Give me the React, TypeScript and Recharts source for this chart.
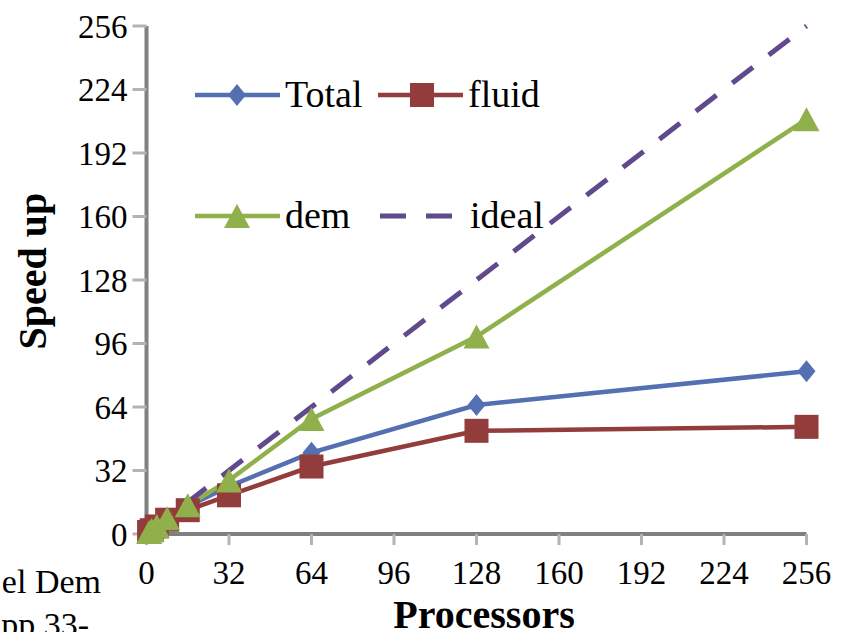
import React from 'react';
import { LineChart, Line, XAxis, YAxis, Legend } from 'recharts';

// processor counts and measured speed ups
const processors = [1, 2, 4, 8, 16, 32, 64, 128, 256];
const totalSpeedup = [1, 2, 3.9, 7.6, 14, 24, 41, 65, 82];
const fluidSpeedup = [1, 1.9, 3.8, 7.2, 12, 19.5, 34, 52, 54];
const demSpeedup = [1, 2, 4, 7.9, 14.5, 27, 58, 99.5, 209];
const idealSpeedup = [1, 2, 4, 8, 16, 32, 64, 128, 256];

const xTicks = [0, 32, 64, 96, 128, 160, 192, 224, 256];
const yTicks = [0, 32, 64, 96, 128, 160, 192, 224, 256];

const data = processors.map((p, i) => ({
  p,
  total: totalSpeedup[i],
  fluid: fluidSpeedup[i],
  dem: demSpeedup[i],
  ideal: idealSpeedup[i],
}));

const BLUE = '#5470b2';
const RED = '#923d3b';
const GREEN = '#8fb04a';
const PURPLE = '#60498c';
const FONT = "'Liberation Serif', 'Times New Roman', serif";

const Diamond = ({ cx, cy }: { cx: number; cy: number }) => (
  <polygon points={`${cx},${cy - 11} ${cx + 9},${cy} ${cx},${cy + 11} ${cx - 9},${cy}`} fill={BLUE} />
);
const Square = ({ cx, cy }: { cx: number; cy: number }) => (
  <rect x={cx - 12} y={cy - 12} width={24} height={24} fill={RED} />
);
const Triangle = ({ cx, cy }: { cx: number; cy: number }) => (
  <polygon points={`${cx},${cy - 12} ${cx + 13},${cy + 12} ${cx - 13},${cy + 12}`} fill={GREEN} />
);

const diamondDot = (props: any) => <Diamond key={`d-${props.index}`} cx={props.cx} cy={props.cy} />;
const squareDot = (props: any) => <Square key={`s-${props.index}`} cx={props.cx} cy={props.cy} />;
const triangleDot = (props: any) => <Triangle key={`t-${props.index}`} cx={props.cx} cy={props.cy} />;

// 2x2 legend sitting inside the plot area
const LegendBox = () => {
  const t = { fontFamily: FONT, fontSize: 38, fill: '#000' };
  return (
    <svg width={400} height={180} style={{ fontFamily: FONT }}>
      <line x1={5} y1={25} x2={90} y2={25} stroke={BLUE} strokeWidth={4.5} />
      <Diamond cx={47} cy={25} />
      <text x={95} y={37} fontFamily={FONT} fontSize={38} style={t}>Total</text>

      <line x1={188} y1={25} x2={273} y2={25} stroke={RED} strokeWidth={4.5} />
      <Square cx={232} cy={25} />
      <text x={278} y={37} fontFamily={FONT} fontSize={38} style={t}>fluid</text>

      <line x1={5} y1={146} x2={90} y2={146} stroke={GREEN} strokeWidth={4.5} />
      <Triangle cx={47} cy={146} />
      <text x={95} y={158} fontFamily={FONT} fontSize={38} style={t}>dem</text>

      <line x1={190} y1={146} x2={262} y2={146} stroke={PURPLE} strokeWidth={5} strokeDasharray="26 20" />
      <text x={280} y={158} fontFamily={FONT} fontSize={38} style={t}>ideal</text>
    </svg>
  );
};

const App: React.FC = () => {
  const tickStyle = { fontFamily: FONT, fontSize: 33, fill: '#000' };
  return (
    <div style={{ position: 'fixed', left: 0, top: 0, width: 841, height: 632, background: '#fff', overflow: 'hidden', fontFamily: FONT }}>
      <LineChart width={841} height={632} data={data} margin={{ top: 26, right: 34.5, bottom: 97, left: 145.5 }}>
        <XAxis
          dataKey="p"
          type="number"
          domain={[0, 256]}
          ticks={xTicks}
          interval={0}
          height={1}
          tick={tickStyle}
          axisLine={{ stroke: '#808080', strokeWidth: 4 }}
          tickLine={{ stroke: '#b3b3b3', strokeWidth: 3 }}
          tickSize={11}
          tickMargin={16}
        />
        <YAxis
          type="number"
          domain={[0, 256]}
          ticks={yTicks}
          interval={0}
          width={1}
          tick={tickStyle}
          axisLine={{ stroke: '#808080', strokeWidth: 4 }}
          tickLine={{ stroke: '#b3b3b3', strokeWidth: 3 }}
          tickSize={14}
          tickMargin={5}
        />
        <Legend
          layout="horizontal"
          verticalAlign="middle"
          align="center"
          content={() => <LegendBox />}
          wrapperStyle={{ left: 190, top: 70, width: 400, height: 180 }}
        />
        <Line dataKey="total" name="Total" type="linear" stroke={BLUE} strokeWidth={4.5} dot={diamondDot} activeDot={false} isAnimationActive={false} />
        <Line dataKey="fluid" name="fluid" type="linear" stroke={RED} strokeWidth={4.5} dot={squareDot} activeDot={false} isAnimationActive={false} />
        <Line dataKey="dem" name="dem" type="linear" stroke={GREEN} strokeWidth={4.5} dot={triangleDot} activeDot={false} isAnimationActive={false} />
        <Line dataKey="ideal" name="ideal" type="linear" stroke={PURPLE} strokeWidth={5} strokeDasharray="26 20" dot={false} activeDot={false} isAnimationActive={false} />
      </LineChart>
      {/* axis titles and the page text cut off at the lower left */}
      <svg width={841} height={632} style={{ position: 'absolute', left: 0, top: 0, pointerEvents: 'none' }}>
        <text x={46} y={271} transform="rotate(-90 46 271)" textAnchor="middle" fontFamily={FONT} fontSize={40} fontWeight="bold">Speed up</text>
        <text x={484} y={628} textAnchor="middle" fontFamily={FONT} fontSize={40} fontWeight="bold">Processors</text>
        <text x={101} y={593} textAnchor="end" fontFamily={FONT} fontSize={34}>el Dem</text>
        <text x={89} y={636} textAnchor="end" fontFamily={FONT} fontSize={34}>pp 33-</text>
      </svg>
    </div>
  );
};

export default App;
